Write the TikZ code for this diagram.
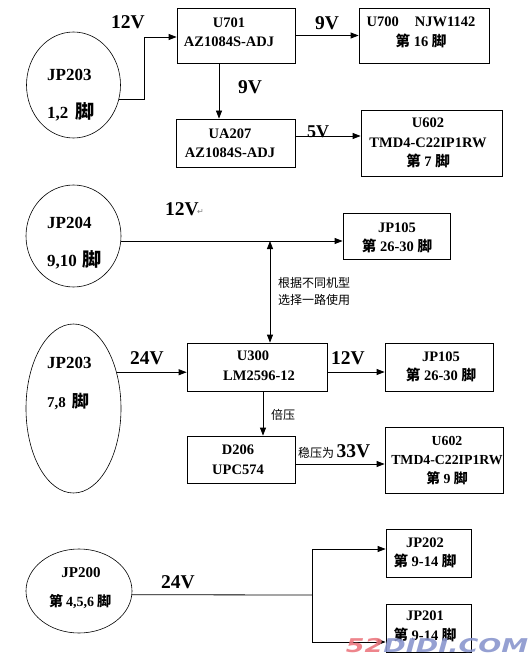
\documentclass[tikz,border=0pt]{standalone}
\usepackage{fontspec}
\setmainfont{Liberation Serif}
\newfontfamily\cjk{Noto Sans CJK SC}
\newfontfamily\wmfont{DejaVu Sans}
\newfontfamily\symfont{DejaVu Sans}
\usetikzlibrary{arrows.meta,shapes.geometric,calc}
\newcommand\zh[1]{{\cjk #1}}
\newcommand\fsz[2]{\fontsize{#1}{#2}\selectfont}
\definecolor{wmred}{RGB}{236,120,128}
\definecolor{wmblue}{RGB}{138,150,205}
\begin{document}
\begin{tikzpicture}[x=1pt,y=-1pt,
  box/.style={draw, line width=0.8pt, inner sep=0pt},
  btext/.style={align=center, inner sep=0pt, font=\fsz{14.5}{19.5}\bfseries},
  oval/.style={draw, ellipse, line width=0.6pt, inner sep=0pt},
  ctext/.style={inner sep=0pt, font=\fsz{17}{20}\bfseries},
  volt/.style={inner sep=0pt, font=\fsz{19.5}{22}\bfseries},
  note/.style={inner sep=0pt, align=left, font=\cjk\fsz{12}{17}},
  arr/.style={-{Triangle[length=8pt,width=6pt]}, line width=0.8pt},
  dbl/.style={{Triangle[length=8pt,width=6pt]}-{Triangle[length=8pt,width=6pt]}, line width=0.8pt},
  wire/.style={line width=0.8pt}]
\useasboundingbox (0,0) rectangle (530,658);

% ---------- top section ----------
\node[oval, minimum width=94pt, minimum height=106pt] (jp203a) at (73.5,85) {};
\node[ctext, anchor=west] (jp203a1) at (47,75) {JP203};
\node[ctext, anchor=west] (jp203a2) at (47,112) {1,2\hspace{7pt}\zh{\fsz{19}{19}脚}};

\node[box, minimum width=118pt, minimum height=55pt] (u701) at (236,35.5) {};
\node[btext] (u701t) at (229,32.5) {U701\\AZ1084S-ADJ};

\node[box, minimum width=130pt, minimum height=55pt] (u700) at (424,35.5) {};
\node[btext] (u700t) at (421,32.5) {U700\hspace{16pt}NJW1142\\\zh{第} 16 \zh{脚}};

\node[box, minimum width=119pt, minimum height=48pt] (ua207) at (235.5,143) {};
\node[btext] (ua207t) at (230,143) {UA207\\AZ1084S-ADJ};

\node[box, minimum width=141pt, minimum height=66pt] (u602a) at (431.5,143) {};
\node[btext] (u602at) at (428,143) {U602\\TMD4-C22IP1RW\\\zh{第} 7 \zh{脚}};

\coordinate (b1) at (144,37);
\draw[arr] (jp203a.-18) -| (b1) -- (b1 -| u701.west);
\draw[arr] (u701.east) -- (u700.west);
\draw[arr] ([xshift=-17pt]u701.south) -- ([xshift=-17pt]u701.south |- ua207.north);
\draw[arr] ([yshift=7pt]ua207.east) -- ([yshift=7pt]ua207.east -| u602a.west);

\node[volt] (v12a) at (128,22) {12V};
\node[volt] (v9a) at (327,23) {9V};
\node[volt] (v9b) at (250,87) {9V};
\node[volt, font=\fsz{18}{20}\bfseries] (v5) at (318,132) {5V};

% ---------- middle section ----------
\node[oval, minimum width=95pt, minimum height=102pt] (jp204) at (73.5,236) {};
\node[ctext, anchor=west] (jp2041) at (47,223) {JP204};
\node[ctext, anchor=west] (jp2042) at (47,260) {9,10\hspace{6pt}\zh{\fsz{19}{19}脚}};

\node[box, minimum width=107pt, minimum height=46pt] (jp105a) at (396.5,236) {};
\node[btext] (jp105at) at (397,238) {JP105\\\zh{第} 26-30 \zh{脚}};

\draw[arr] (jp204.-6) -- (jp204.-6 -| jp105a.west);
\node[volt] (v12b) at (182,209) {12V};
\node[inner sep=0pt, font=\symfont\fsz{8}{8}, text=gray, anchor=west] (ret) at (197,212) {↵};

\node[oval, minimum width=95pt, minimum height=169pt] (jp203b) at (73.5,408.5) {};
\node[ctext, anchor=west] (jp203b1) at (47,363) {JP203};
\node[ctext, anchor=west, font=\fsz{15}{18}\bfseries] (jp203b2) at (47,402) {7,8\hspace{6pt}\zh{\fsz{17}{17}脚}};

\node[box, minimum width=140pt, minimum height=48pt] (u300) at (257,367) {};
\node[btext] (u300t) at (253,365.5) {U300\\\hspace{12pt}LM2596-12};

\node[box, minimum width=108pt, minimum height=48pt] (jp105b) at (439,367) {};
\node[btext] (jp105bt) at (441,367) {JP105\\\zh{第} 26-30 \zh{脚}};

\node[box, minimum width=108pt, minimum height=47pt] (d206) at (241,459.5) {};
\node[btext] (d206t) at (238,459.5) {D206\\UPC574};

\node[box, minimum width=118pt, minimum height=66pt] (u602b) at (444,460) {};
\node[btext, font=\fsz{13.8}{19}\bfseries] (u602bt) at (447,460.5) {U602\\TMD4-C22IP1RW\\\zh{第} 9 \zh{脚}};

\coordinate (sel) at (270,241);
\draw[dbl] (sel) -- (sel |- u300.north);
\node[note, anchor=west] (selnote) at (278,291.5) {根据不同机型\\选择一路使用};

\draw[arr] (jp203b.40) -- (jp203b.40 -| u300.west);
\draw[arr] ([yshift=-5pt]u300.east) -- ([yshift=-5pt]u300.east -| jp105b.west);
\draw[arr] ([xshift=6pt]u300.south) -- ([xshift=6pt]u300.south |- d206.north);
\draw[arr] ([yshift=-4.5pt]d206.east) -- ([yshift=-4.5pt]d206.east -| u602b.west);

\node[volt] (v24a) at (147,358) {24V};
\node[volt] (v12c) at (348,358) {12V};
\node[note] (bei) at (283,415) {倍压};
\node[inner sep=0pt, anchor=base west] (wen) at (298,457) {\zh{\fsz{12}{12}稳压为} {\fsz{19.5}{20}\bfseries 33V}};

% ---------- bottom section ----------
\node[oval, minimum width=106pt, minimum height=84pt] (jp200) at (79,591) {};
\node[ctext, font=\fsz{15}{18}\bfseries] (jp2001) at (81,573) {JP200};
\node[ctext, anchor=west, font=\fsz{14}{18}\bfseries] (jp2002) at (49,602) {\zh{第}\hspace{3pt}4,5,6\hspace{3pt}\zh{脚}};

\node[box, minimum width=85pt, minimum height=48pt] (jp202) at (428.5,553) {};
\node[btext] (jp202t) at (425,553) {JP202\\\zh{第} 9-14 \zh{脚}};

\node[box, minimum width=85pt, minimum height=48pt] (jp201) at (428.5,628) {};
\node[btext] (jp201t) at (425,626.5) {JP201\\\zh{第} 9-14 \zh{脚}};

\coordinate (j) at (312,595);
\draw[wire] (jp200.-4) -- (j);
\draw[arr] (j) |- ([yshift=4pt]jp202.west);
\draw[arr] (j) |- ([yshift=-14pt]jp201.west);
\node[volt] (v24b) at (178,582) {24V};

% watermark
\node[inner sep=0pt, opacity=0.9, font=\wmfont\bfseries\itshape\fsz{19}{19}] (wm) at (437,646)
  {\scalebox{1.42}[1]{\textcolor{wmred}{52}\textcolor{wmblue}{DIDI.COM}}};
\end{tikzpicture}
\end{document}
